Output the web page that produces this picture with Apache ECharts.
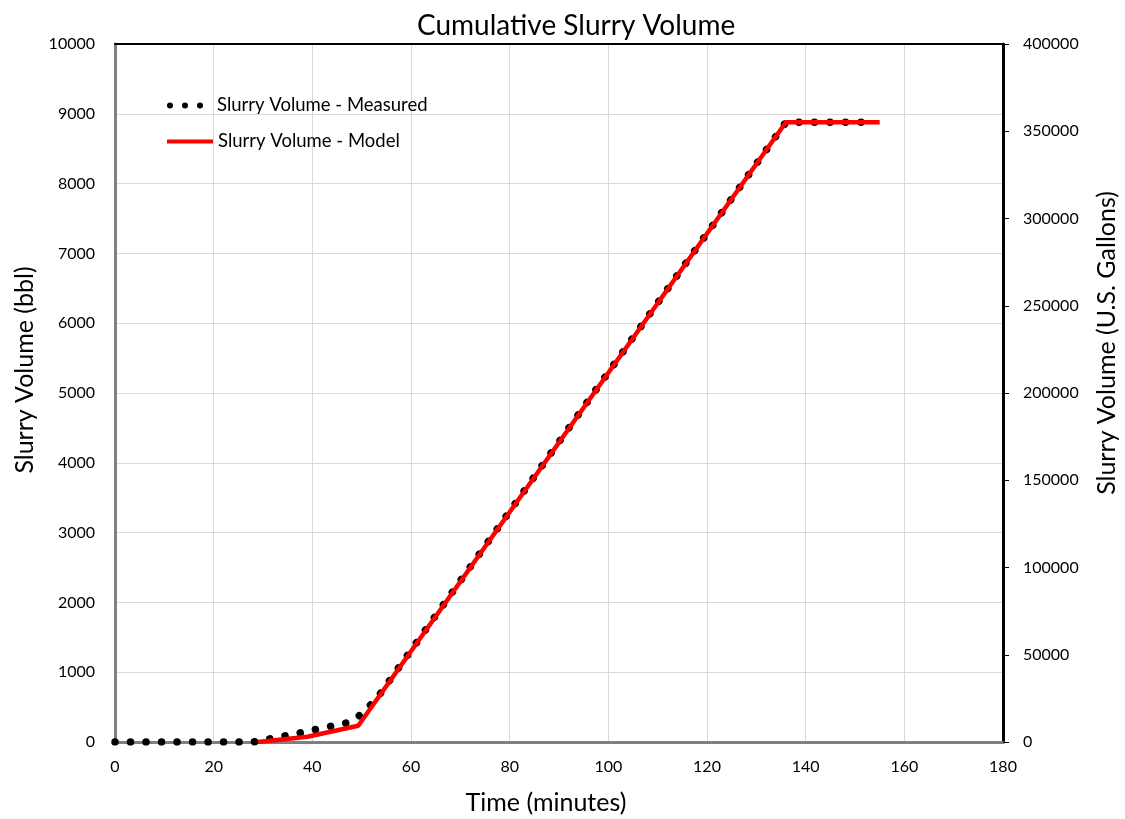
<!DOCTYPE html>
<html>
<head>
<meta charset="utf-8">
<script src="https://cdn.jsdelivr.net/npm/echarts@6/dist/echarts.min.js"></script>
<style>
  html, body { margin: 0; padding: 0; background: #fff; }
  #main { width: 1125px; height: 819px; }
</style>
</head>
<body>
<div id="main"></div>
<script>
// time (minutes) and cumulative volume (bbl)
const measuredTime = [0, 28, 31, 36.5, 42, 47.2, 49.3, 51.1, 53, 136, 154]
const measuredVol = [0, 0, 40, 115, 200, 276, 362, 482, 616, 8880, 8880]
const modelTime = [29, 39, 49.3, 136, 155]
const modelVol = [0, 76, 233, 8880, 8880]

const xTicks = [0, 20, 40, 60, 80, 100, 120, 140, 160, 180]
const bblTicks = [0, 1000, 2000, 3000, 4000, 5000, 6000, 7000, 8000, 9000, 10000]
const galTicks = [0, 50000, 100000, 150000, 200000, 250000, 300000, 350000, 400000]

const seriesNames = ['Slurry Volume - Measured', 'Slurry Volume - Model']

const font = 'Lato, "Open Sans", sans-serif'

const zip = (xs, ys) => xs.map((x, i) => [x, ys[i]])

// three round dots, plus a tiny mark at the end so the icon keeps its width
const dotsIcon = 'path://M0 3A3 3 0 1 0 6 3A3 3 0 1 0 0 3Z' +
    'M15 3A3 3 0 1 0 21 3A3 3 0 1 0 15 3Z' +
    'M30 3A3 3 0 1 0 36 3A3 3 0 1 0 30 3Z' +
    'M44.9 2.95L45 2.95L45 3.05L44.9 3.05Z'

const chart = echarts.init(document.getElementById('main'))

const legendText = { fontFamily: font, fontSize: 18.5, color: '#000' }

const option = {
    animation: false,
    backgroundColor: '#fff',
    textStyle: { fontFamily: font, color: '#000' },
    title: {
        text: 'Cumulative Slurry Volume',
        left: 412,
        top: 7,
        textStyle: { fontFamily: font, fontSize: 28, fontWeight: 'normal', color: '#000' }
    },
    legend: [{
        left: 167,
        top: 96,
        padding: 0,
        itemWidth: 45,
        itemHeight: 6,
        icon: dotsIcon,
        itemStyle: { color: '#000' },
        textStyle: legendText,
        data: [seriesNames[0]]
    }, {
        left: 167,
        top: 132,
        padding: 0,
        itemWidth: 46,
        itemHeight: 4,
        icon: 'rect',
        itemStyle: { color: '#ff0000' },
        textStyle: legendText,
        data: [seriesNames[1]]
    }],
    grid: { left: 115, right: 122, top: 44, bottom: 77, containLabel: false, outerBoundsMode: 'none' },
    xAxis: [{
        type: 'value',
        min: xTicks[0],
        max: xTicks[xTicks.length - 1],
        interval: xTicks[1] - xTicks[0],
        name: 'Time (minutes)',
        nameLocation: 'middle',
        nameGap: 48,
        nameTextStyle: { fontFamily: font, fontSize: 25, color: '#000', padding: [0, 26, 0, 0] },
        axisLine: { show: true, onZero: false, lineStyle: { color: '#808080', width: 3 } },
        axisTick: { show: false },
        axisLabel: { fontSize: 16, color: '#000', margin: 17, fontFamily: font },
        splitLine: { show: true, lineStyle: { color: '#d9d9d9', width: 1 } }
    }, {
        type: 'value',
        position: 'top',
        min: xTicks[0],
        max: xTicks[xTicks.length - 1],
        axisLine: { show: true, onZero: false, lineStyle: { color: '#000', width: 2 } },
        axisTick: { show: false },
        axisLabel: { show: false },
        splitLine: { show: false }
    }],
    yAxis: [{
        type: 'value',
        min: bblTicks[0],
        max: bblTicks[bblTicks.length - 1],
        interval: bblTicks[1] - bblTicks[0],
        name: 'Slurry Volume (bbl)',
        nameLocation: 'middle',
        nameGap: 76,
        nameTextStyle: { fontFamily: font, fontSize: 25, color: '#000', padding: [0, 0, 0, 46] },
        axisLine: { show: true, onZero: false, lineStyle: { color: '#808080', width: 3 } },
        axisTick: { show: false },
        axisLabel: { fontSize: 16, color: '#000', margin: 20, fontFamily: font, formatter: v => String(v) },
        splitLine: { show: true, lineStyle: { color: '#d9d9d9', width: 1 } }
    }, {
        type: 'value',
        position: 'right',
        min: galTicks[0],
        max: galTicks[galTicks.length - 1],
        interval: galTicks[1] - galTicks[0],
        name: 'Slurry Volume (U.S. Gallons)',
        nameLocation: 'middle',
        nameGap: 91,
        nameTextStyle: { fontFamily: font, fontSize: 25, color: '#000', padding: [0, 0, 0, 100] },
        axisLine: { show: true, onZero: false, lineStyle: { color: '#000', width: 3 } },
        axisTick: { show: true, inside: false, length: 6, lineStyle: { color: '#000', width: 1 } },
        axisLabel: { fontSize: 16, color: '#000', margin: 20, fontFamily: font, formatter: v => String(v) },
        splitLine: { show: false }
    }],
    series: [{
        name: seriesNames[0],
        type: 'line',
        xAxisIndex: 0,
        yAxisIndex: 0,
        showSymbol: false,
        symbol: 'none',
        z: 2,
        itemStyle: { color: '#000' },
        lineStyle: { color: '#000', width: 7.5, type: [0.01, 15.5], cap: 'round' },
        data: zip(measuredTime, measuredVol)
    }, {
        name: seriesNames[1],
        type: 'line',
        xAxisIndex: 0,
        yAxisIndex: 0,
        showSymbol: false,
        symbol: 'none',
        z: 3,
        itemStyle: { color: '#ff0000' },
        lineStyle: { color: '#ff0000', width: 4.5 },
        data: zip(modelTime, modelVol)
    }]
}

chart.setOption(option)
</script>
</body>
</html>
